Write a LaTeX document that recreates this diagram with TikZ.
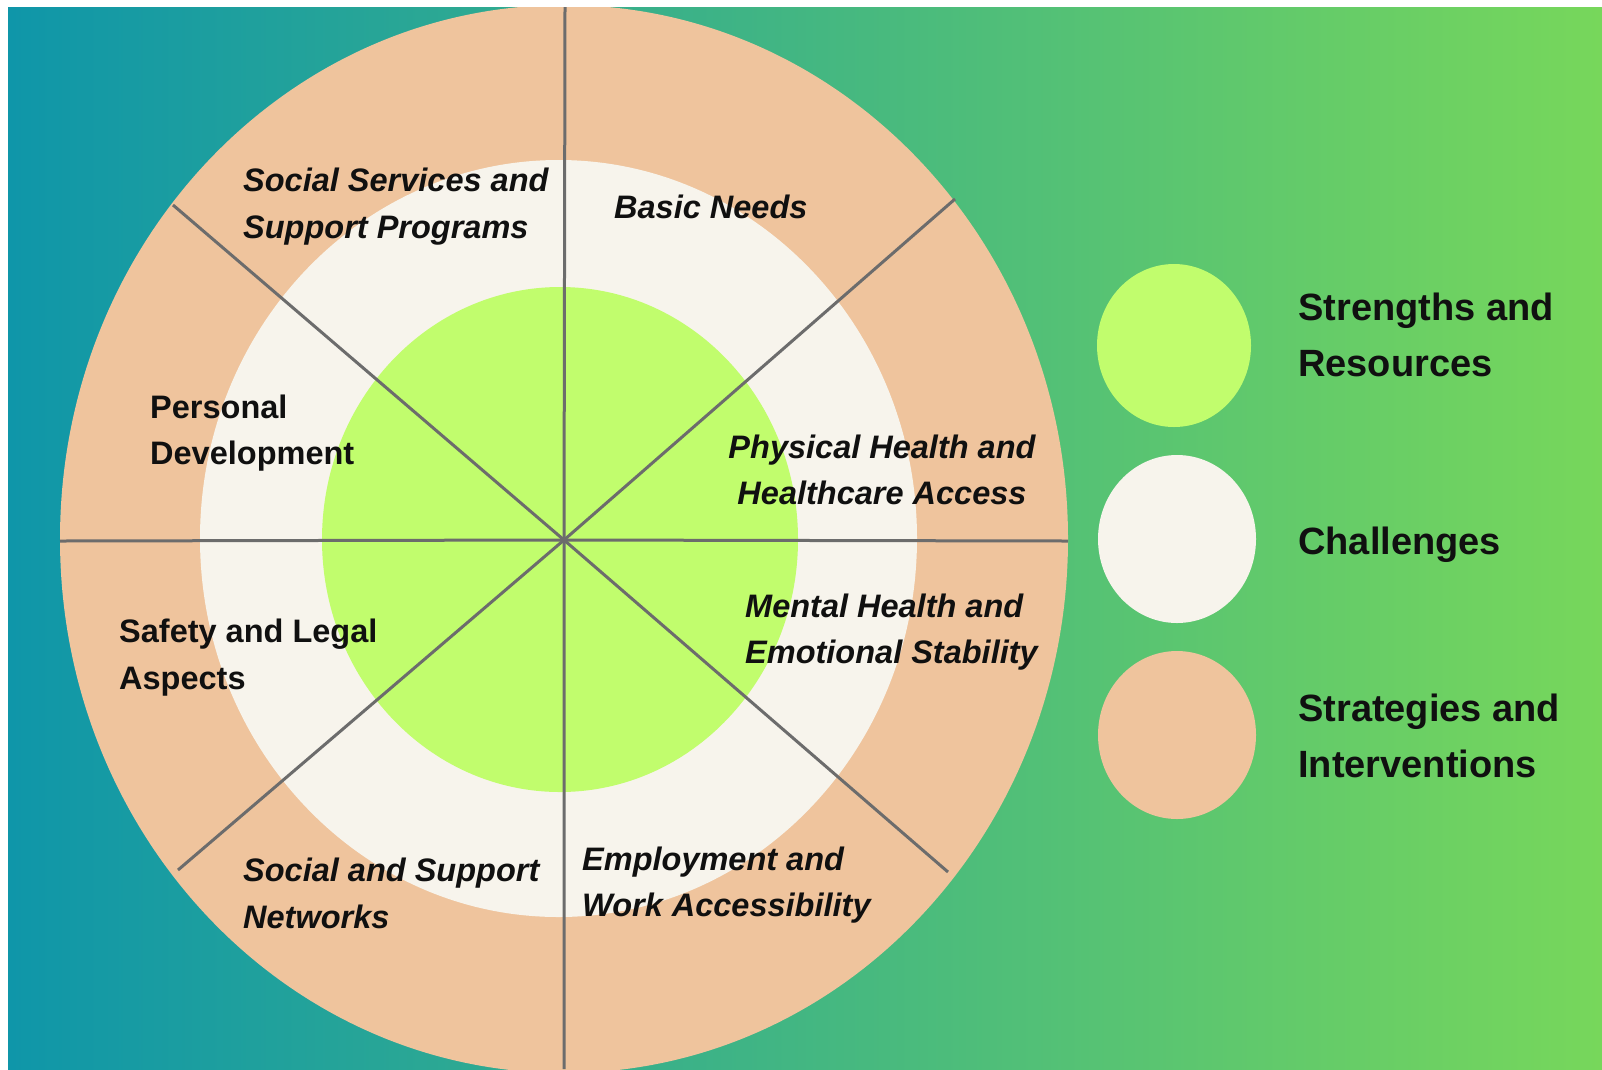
\documentclass[tikz,border=0pt]{standalone}
\usepackage{fontspec}
\setmainfont{Liberation Sans}
\definecolor{bgl}{HTML}{0F96A9}
\definecolor{bgr}{HTML}{77D75B}
\definecolor{cStrat}{HTML}{EFC49D}
\definecolor{cChal}{HTML}{F7F4EC}
\definecolor{cRes}{HTML}{C1FD6D}
\definecolor{ink}{HTML}{101010}
\definecolor{linegray}{HTML}{6C6C6C}
\newcommand{\leftlines}[1]{\vtop{\halign{##\hfil\cr #1\crcr}}}
\newcommand{\midlines}[1]{\vtop{\halign{\hfil##\hfil\cr #1\crcr}}}
\begin{document}
\begin{tikzpicture}[x=1pt,y=-1pt,
  wl/.style={inner sep=0pt, text=ink, anchor=base west, font=\fontsize{32.5}{46.8}\selectfont\bfseries\itshape},
  wlu/.style={inner sep=0pt, text=ink, anchor=base west, font=\fontsize{32.5}{46.8}\selectfont\bfseries},
  leg/.style={inner sep=0pt, text=ink, anchor=base west, font=\fontsize{38}{56}\selectfont\bfseries},
  sep/.style={draw=linegray, line width=3pt}]
\useasboundingbox (0,0) rectangle (1602,1069);
\fill[white] (0,0) rectangle (1602,1069);
\shade[left color=bgl, right color=bgr] (8,7) rectangle (1602,1069);
\begin{scope}
  \clip (8,7) rectangle (1602,1069);
  \fill[cStrat] (564,539) ellipse [x radius=504, y radius=534];
  \fill[cChal] (558.5,538.5) ellipse [x radius=358.5, y radius=378.5];
  \fill[cRes] (560,539.5) ellipse [x radius=238, y radius=252.5];
  \coordinate (c) at (564,540);
  \coordinate (top) at (565,7);
  \coordinate (bot) at (564,1069);
  \coordinate (lft) at (60,541);
  \coordinate (rgt) at (1068,541);
  \coordinate (ul) at (173,205);
  \coordinate (lr) at (948,872);
  \coordinate (ur) at (955,199);
  \coordinate (ll) at (178,870);
  \draw[sep] (top) -- (c) -- (bot);
  \draw[sep] (lft) -- (c) -- (rgt);
  \draw[sep] (ul) -- (c) -- (lr);
  \draw[sep] (ur) -- (c) -- (ll);
\end{scope}
% wheel labels
\node[wl] (ssp) at (243,191.5) {\leftlines{Social Services and\cr Support Programs}};
\node[wl] (bn) at (614,218) {Basic Needs};
\node[wlu] (pd) at (150,418) {\leftlines{Personal\cr Development}};
\node[wl, anchor=base] (ph) at (882,458) {\midlines{Physical Health and\cr Healthcare Access}};
\node[wlu] (sl) at (119,642.5) {\leftlines{Safety and Legal\cr Aspects}};
\node[wl] (sn) at (243,881.5) {\leftlines{Social and Support\cr Networks}};
\node[wl] (mh) at (745,617) {\leftlines{Mental Health and\cr Emotional Stability}};
\node[wl] (ew) at (582,870) {\leftlines{Employment and\cr Work Accessibility}};
% legend
\fill[cRes] (1174,345.5) ellipse [x radius=77, y radius=81.5];
\fill[cChal] (1177,539) ellipse [x radius=79, y radius=84];
\fill[cStrat] (1177,735) ellipse [x radius=79, y radius=84];
\node[leg] (lres) at (1298,320) {\leftlines{Strengths and\cr Resources}};
\node[leg] (lchal) at (1298,554) {Challenges};
\node[leg] (lstrat) at (1298,721) {\leftlines{Strategies and\cr Interventions}};
\end{tikzpicture}
\end{document}
